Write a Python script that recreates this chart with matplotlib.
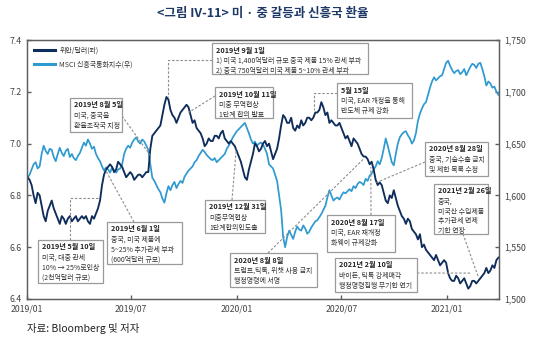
import matplotlib
matplotlib.use('Agg')
import matplotlib.pyplot as plt
import matplotlib.dates as mdates
from matplotlib.patches import Rectangle
from matplotlib.ticker import FuncFormatter
import pandas as pd

plt.rcParams['font.family'] = ['Noto Sans CJK KR', 'DejaVu Sans']

# Twice-weekly observations
dates = pd.date_range('2019-01-02', periods=235, freq='84h')

# CNY per USD (left axis)
yuan = [
    6.87, 6.86, 6.84, 6.80, 6.77, 6.81, 6.80, 6.76, 6.72, 6.70,
    6.74, 6.76, 6.78, 6.75, 6.73, 6.71, 6.69, 6.72, 6.71, 6.69,
    6.71, 6.72, 6.70, 6.71, 6.72, 6.70, 6.71, 6.72, 6.71, 6.72,
    6.70, 6.69, 6.72, 6.71, 6.73, 6.75, 6.78, 6.84, 6.88, 6.90,
    6.91, 6.92, 6.91, 6.89, 6.90, 6.93, 6.92, 6.91, 6.89, 6.87,
    6.88, 6.89, 6.88, 6.86, 6.87, 6.88, 6.88, 6.87, 6.88, 6.89,
    6.89, 6.98, 7.03, 7.04, 7.05, 7.06, 7.07, 7.11, 7.15, 7.18,
    7.17, 7.13, 7.11, 7.10, 7.08, 7.10, 7.12, 7.13, 7.14, 7.15,
    7.14, 7.11, 7.08, 7.09, 7.06, 7.05, 7.04, 7.02, 6.99, 7.00,
    7.02, 7.01, 7.01, 7.03, 7.03, 7.02, 7.04, 7.05, 7.02, 7.01,
    7.00, 7.01, 7.00, 6.99, 6.97, 6.95, 6.93, 6.90, 6.87, 6.86,
    6.90, 6.93, 6.96, 7.00, 6.99, 6.97, 6.98, 7.00, 7.01, 6.99,
    7.00, 6.97, 6.94, 6.96, 6.98, 7.02, 7.07, 7.11, 7.10, 7.08,
    7.08, 7.10, 7.06, 7.05, 7.07, 7.06, 7.09, 7.07, 7.08, 7.10,
    7.10, 7.09, 7.10, 7.12, 7.12, 7.13, 7.16, 7.14, 7.11, 7.12,
    7.08, 7.09, 7.08, 7.07, 7.07, 7.08, 7.06, 7.04, 7.02, 7.03,
    7.01, 6.99, 7.02, 7.01, 7.00, 6.98, 6.96, 6.95, 6.95, 6.94,
    6.92, 6.93, 6.90, 6.86, 6.84, 6.85, 6.84, 6.81, 6.78, 6.77,
    6.80, 6.79, 6.82, 6.79, 6.76, 6.74, 6.72, 6.71, 6.69, 6.71,
    6.70, 6.67, 6.66, 6.65, 6.63, 6.65, 6.60, 6.61, 6.59, 6.58,
    6.57, 6.56, 6.55, 6.57, 6.55, 6.53, 6.54, 6.55, 6.54, 6.50,
    6.48, 6.47, 6.47, 6.49, 6.48, 6.46, 6.47, 6.48, 6.46, 6.44,
    6.45, 6.47, 6.47, 6.46, 6.47, 6.48, 6.49, 6.50, 6.52, 6.50,
    6.51, 6.53, 6.52, 6.55, 6.56,
]

# MSCI EM currency index (right axis)
msci = [
    1617, 1620, 1625, 1630, 1632, 1626, 1628, 1640, 1648, 1643,
    1640, 1645, 1644, 1637, 1633, 1640, 1646, 1641, 1638, 1643,
    1645, 1637, 1640, 1636, 1634, 1638, 1641, 1646, 1651, 1648,
    1654, 1650, 1645, 1647, 1640, 1636, 1633, 1628, 1624, 1627,
    1625, 1622, 1627, 1624, 1622, 1625, 1626, 1630, 1640, 1645,
    1648, 1646, 1651, 1654, 1656, 1652, 1650, 1654, 1652, 1648,
    1644, 1630, 1617, 1614, 1610, 1606, 1603, 1597, 1593, 1602,
    1609, 1605, 1610, 1613, 1607, 1611, 1614, 1612, 1618, 1621,
    1624, 1626, 1628, 1632, 1634, 1638, 1641, 1644, 1642, 1639,
    1637, 1635, 1634, 1636, 1632, 1634, 1636, 1638, 1640, 1645,
    1648, 1652, 1656, 1659, 1662, 1664, 1666, 1668, 1670, 1665,
    1660, 1654, 1650, 1652, 1648, 1650, 1651, 1649, 1645, 1640,
    1630, 1628, 1626, 1620, 1614, 1600, 1586, 1560, 1550, 1560,
    1566, 1562, 1558, 1565, 1570, 1567, 1566, 1571, 1568, 1563,
    1565, 1569, 1572, 1575, 1576, 1579, 1582, 1586, 1590, 1598,
    1605, 1600, 1595, 1597, 1598, 1596, 1600, 1603, 1602, 1604,
    1606, 1604, 1609, 1607, 1611, 1613, 1612, 1610, 1616, 1614,
    1619, 1621, 1625, 1628, 1633, 1630, 1636, 1645, 1655, 1648,
    1640, 1632, 1629, 1640, 1650, 1656, 1659, 1661, 1662, 1658,
    1655, 1650, 1653, 1660, 1672, 1679, 1684, 1688, 1690, 1697,
    1704, 1710, 1714, 1711, 1713, 1715, 1716, 1722, 1728, 1730,
    1725, 1721, 1718, 1720, 1721, 1717, 1719, 1722, 1716, 1720,
    1724, 1727, 1726, 1723, 1727, 1728, 1722, 1715, 1706, 1710,
    1708, 1704, 1705, 1700, 1697,
]

left_ticks = [6.4, 6.6, 6.8, 7.0, 7.2, 7.4]
right_ticks = [1500, 1550, 1600, 1650, 1700, 1750]
x_ticks = ['2019-01-01', '2019-07-01', '2020-01-01', '2020-07-01', '2021-01-01']

series_labels = ['위안/달러(좌)', 'MSCI 신흥국통화지수(우)']
title = '<그림 IV-11> 미 · 중 갈등과 신흥국 환율'
source = '자료: Bloomberg 및 저자'

NAVY = '#0f2d5a'
SKY = '#2e9ad0'
FRAME = '#5f5f5f'
TEXT = '#333333'

W, H = 535, 341
fig = plt.figure(figsize=(W / 100, H / 100), dpi=100)
AX_L, AX_R, AX_T, AX_B = 27, 499, 40, 299
ax = fig.add_axes([AX_L / W, 1 - AX_B / H, (AX_R - AX_L) / W, (AX_B - AX_T) / H])
ax2 = ax.twinx()
ax.set_zorder(ax2.get_zorder() + 1)
ax.patch.set_visible(False)

l2, = ax2.plot(dates, msci, color=SKY, lw=1.25, label=series_labels[1])
l1, = ax.plot(dates, yuan, color=NAVY, lw=1.35, label=series_labels[0])

ax.set_xlim(pd.Timestamp('2019-01-01'), pd.Timestamp('2021-04-01'))
ax.set_ylim(6.4, 7.4)
ax2.set_ylim(1500, 1750)
ax.set_yticks(left_ticks)
ax.yaxis.set_major_formatter(FuncFormatter(lambda v, p: f'{v:.1f}'))
ax2.set_yticks(right_ticks)
ax2.yaxis.set_major_formatter(FuncFormatter(lambda v, p: f'{int(v):,}'))
ax.set_xticks([pd.Timestamp(d) for d in x_ticks])
ax.xaxis.set_major_formatter(mdates.DateFormatter('%Y/%m'))

for a in (ax, ax2):
    for s in a.spines.values():
        s.set_color(FRAME)
        s.set_linewidth(0.9)
    a.tick_params(direction='in', length=3, width=1, color=FRAME,
                  labelsize=6.3, labelcolor='#444444')
ax.tick_params(axis='y', pad=4)
ax2.tick_params(axis='y', pad=4)
ax.tick_params(axis='x', pad=4)

leg = ax.legend(handles=[l1, l2], loc='upper left', bbox_to_anchor=(0.005, 0.995),
                frameon=False, fontsize=5, handlelength=3.0, handletextpad=0.6,
                labelspacing=0.9, borderaxespad=0.3)
for t in leg.get_texts():
    t.set_color(TEXT)
for h in leg.legend_handles:
    h.set_linewidth(2.2)


def frac(px, py):
    return ((px - AX_L) / (AX_R - AX_L), (AX_B - py) / (AX_B - AX_T))


def data_frac(date, val):
    disp = ax.transData.transform((mdates.date2num(pd.Timestamp(date)), val))
    return tuple(ax.transAxes.inverted().transform(disp))


notes = [
    dict(box=(212, 43, 368, 74), head='2019년 9월 1일',
         body=['1) 미국 1,400억달러 규모 중국 제품 15% 관세 부과',
               '2) 중국 750억달러 미국 제품 5~10% 관세 부과'],
         target=('2019-09-03', 7.18), anchor=(212, 60), route='hv'),
    dict(box=(215, 87, 273, 118), head='2019년 10월 11일',
         body=['미중 무역협상', '1단계 합의 발표'],
         target=('2019-10-09', 7.12), anchor=(215, 96), route='direct'),
    dict(box=(70, 98, 122, 132), head='2019년 8월 5일',
         body=['미국, 중국을', '환율조작국 지정'],
         target=('2019-08-05', 6.95), anchor=(122, 116), route='direct'),
    dict(box=(337, 83, 412, 118), head='5월 15일',
         body=['미국, EAR 개정을 통해', '반도체 규제 강화'],
         target=('2020-05-15', 7.13), anchor=(337, 93), route='hv'),
    dict(box=(205, 200, 265, 233), head='2019년 12월 31일',
         body=['미중무역협상', '1단계합의인도출'],
         target=('2019-12-31', 6.98), anchor=(232, 200), route='direct'),
    dict(box=(38, 240, 103, 283), head='2019년 5월 10일',
         body=['미국, 대중 관세', '10% → 25%로인상', '(2천억달러 규모)'],
         target=('2019-05-07', 6.79), anchor=(70, 240), route='vh'),
    dict(box=(107, 222, 182, 264), head='2019년 6월 1일',
         body=['중국, 미국 제품에', '5~25% 추가관세 부과', '(600억달러 규모)'],
         target=('2019-05-17', 6.90), anchor=(134, 222), route='direct'),
    dict(box=(230, 253, 317, 287), head='2020년 8월 8일',
         body=['트럼프,틱톡, 위챗 사용 금지', '행정명령에 서명'],
         target=('2020-08-08', 6.94), anchor=(268, 253), route='direct'),
    dict(box=(327, 215, 395, 252), head='2020년 8월 17일',
         body=['미국, EAR 재개정', '화웨이 규제강화'],
         target=('2020-08-21', 6.91), anchor=(371, 215), route='direct'),
    dict(box=(425, 142, 488, 176), head='2020년 8월 28일',
         body=['중국, 기술수출 금지', '및 제한 목록 수정'],
         target=('2020-08-31', 6.85), anchor=(425, 162), route='direct'),
    dict(box=(335, 258, 417, 292), head='2021년 2월 10일',
         body=['바이든, 틱톡 강제매각', '행정명령집행 무기한 연기'],
         target=('2021-02-12', 6.50), anchor=(417, 273), route='direct'),
    dict(box=(434, 184, 488, 234), head='2021년 2월 26일',
         body=['중국,', '미국산 수입제품', '추가관세 면제', '기한 연장'],
         target=('2021-02-24', 6.485), anchor=(463, 234), route='direct'),
]

for n in notes:
    x0, y0, x1, y1 = n['box']
    fx0, fy1 = frac(x0, y1)
    fx1, fy0 = frac(x1, y0)
    ax.add_patch(Rectangle((fx0, fy1), fx1 - fx0, fy0 - fy1, transform=ax.transAxes,
                           facecolor='white', edgecolor='#9a9a9a', lw=0.9,
                           zorder=6, clip_on=False))
    tx, ty = frac(x0 + 4, y0 + 3.5)
    ax.text(tx, ty, n['head'], transform=ax.transAxes, fontsize=5.2,
            fontweight='bold', color='#222222', va='top', ha='left', zorder=7)
    for k, line in enumerate(n['body']):
        lx, ly = frac(x0 + 4, y0 + 14 + 9.6 * k)
        ax.text(lx, ly, line, transform=ax.transAxes, fontsize=5.0,
                color=TEXT, va='top', ha='left', zorder=7)
    ax_, ay_ = frac(*n['anchor'])
    px, py = data_frac(*n['target'])
    if n['route'] == 'hv':
        xs, ys = [ax_, px, px], [ay_, ay_, py]
    elif n['route'] == 'vh':
        xs, ys = [ax_, ax_, px], [ay_, py, py]
    else:
        xs, ys = [ax_, px], [ay_, py]
    ax.plot(xs, ys, transform=ax.transAxes, color='#8c8c8c', lw=0.8,
            ls=(0, (2.2, 1.6)), zorder=5, clip_on=False)

fig.text(263 / W, 1 - 14 / H, title, ha='center', va='center', fontsize=9,
         fontweight='bold', color='#1d3766')
fig.text(27 / W, 1 - 328 / H, source, ha='left', va='center', fontsize=7.5,
         color='#222222')

fig.savefig('out.png', dpi=100)
